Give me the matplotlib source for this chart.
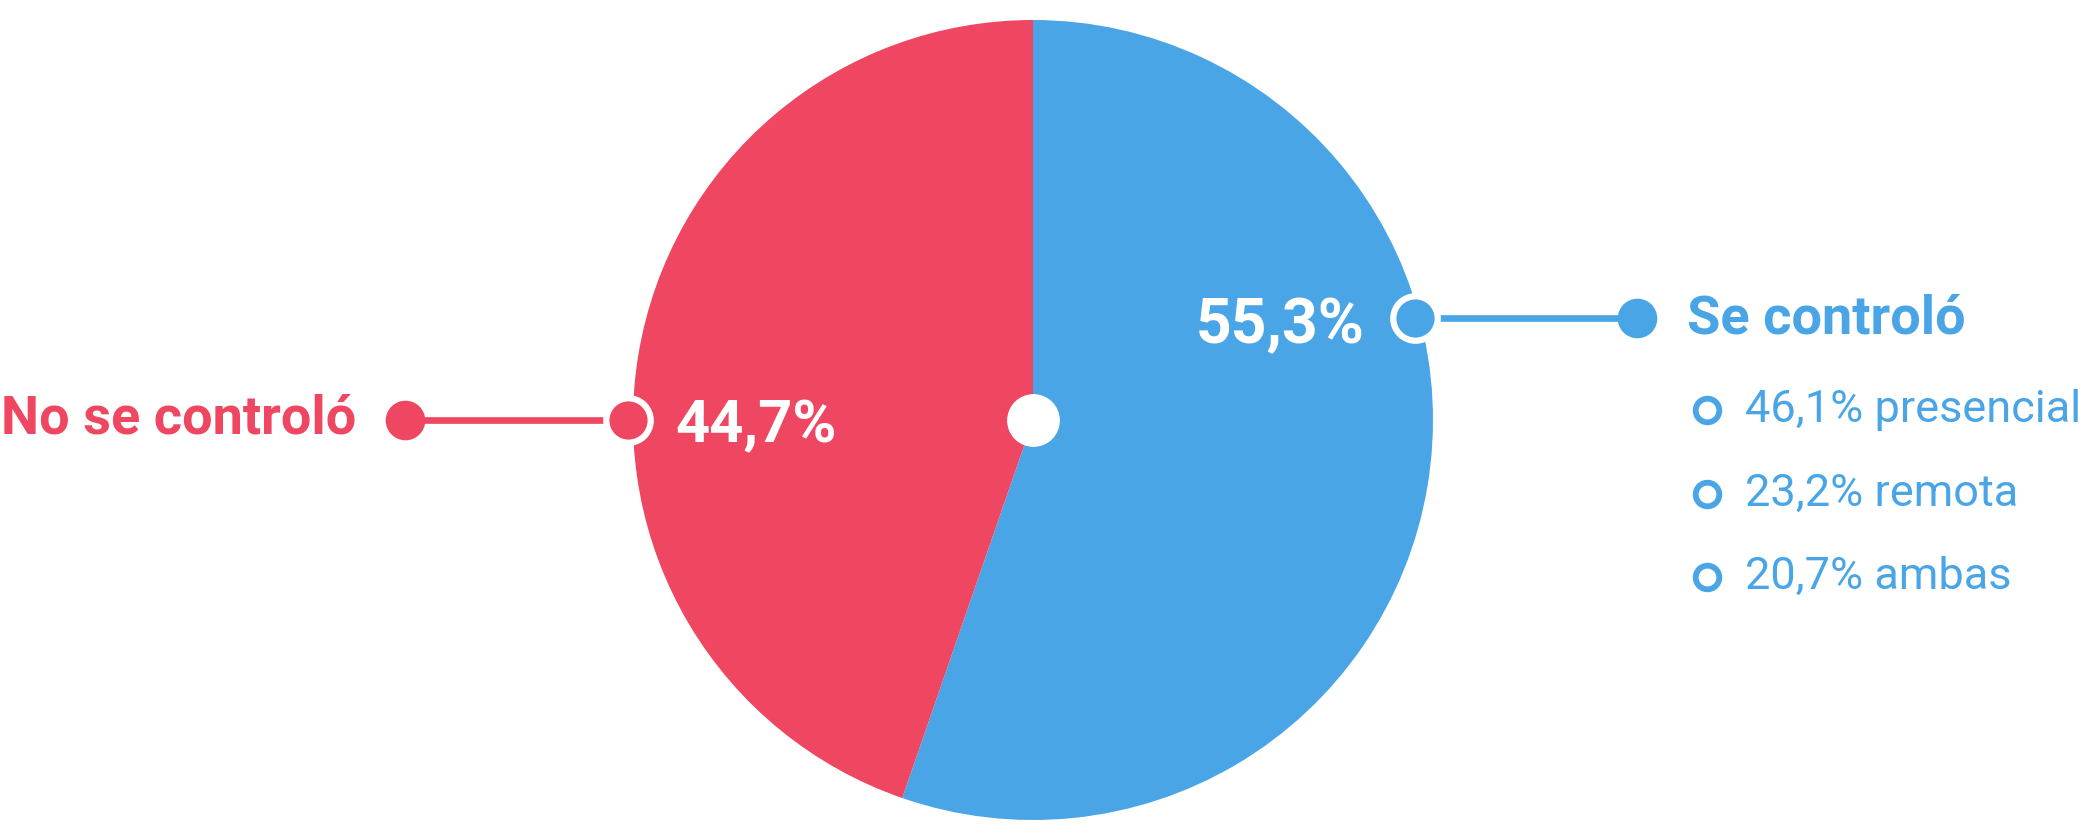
import numpy as np
import matplotlib
matplotlib.use('Agg')
import matplotlib.pyplot as plt

plt.rcParams['font.family'] = ['Roboto', 'DejaVu Sans']

# datos
categorias = ['Se controló', 'No se controló']
valores = [55.3, 44.7]
sub_etiquetas = ['presencial', 'remota', 'ambas']
sub_valores = [46.1, 23.2, 20.7]

azul = '#4AA5E6'
rojo = '#EF4761'

W, H = 2091, 835


def pct(v):
    return f'{v:.1f}'.replace('.', ',') + '%'


fig = plt.figure(figsize=(W / 100, H / 100), dpi=100)
ax = fig.add_axes([0, 0, 1, 1])

cx, cy, r = 1033, H - 420, 400
ax.pie(valores, colors=[azul, rojo], startangle=90, counterclock=False,
       center=(cx, cy), radius=r, frame=True,
       wedgeprops=dict(linewidth=0))
ax.set_xlim(0, W)
ax.set_ylim(0, H)
ax.set_aspect('equal')
ax.axis('off')

# punto blanco central
ax.plot(cx, cy, 'o', ms=37, color='white', zorder=5)

# etiqueta "Se controló"
ang = np.radians(15)
x0, y0 = cx + 395 * np.cos(ang), cy + 395 * np.sin(ang)
x1 = 1637
ax.plot([x0, x1], [y0, y0], color=azul, lw=4.8, zorder=4, solid_capstyle='butt')
ax.plot(x0, y0, 'o', ms=32, mfc=azul, mec='white', mew=4.5, zorder=6)
ax.plot(x1, y0, 'o', ms=27.5, color=azul, zorder=6)
ax.text(1687, H - 333, categorias[0], color=azul, fontsize=39, fontweight='bold',
        ha='left', va='baseline')
ax.text(1365, H - 343, pct(valores[0]), color='white', fontsize=45, fontweight='bold',
        ha='right', va='baseline', zorder=7)

# desglose
ys = [410, 494, 577]
for yy, lab, v in zip(ys, sub_etiquetas, sub_valores):
    ax.plot(1707, H - yy, 'o', ms=17, mfc='white', mec=azul, mew=4.2, zorder=6)
    ax.text(1745, H - yy - 12, f'{pct(v)} {lab}', color=azul, fontsize=32.5,
            ha='left', va='baseline')

# etiqueta "No se controló"
x0, y0 = cx - 405, cy
x1 = 405
ax.plot([x1, x0], [y0, y0], color=rojo, lw=4.8, zorder=4, solid_capstyle='butt')
ax.plot(x0, y0, 'o', ms=32, mfc=rojo, mec='white', mew=4.5, zorder=6)
ax.plot(x1, y0, 'o', ms=27.5, color=rojo, zorder=6)
ax.text(356, H - 433, categorias[1], color=rojo, fontsize=39, fontweight='bold',
        ha='right', va='baseline')
ax.text(675, H - 442, pct(valores[1]), color='white', fontsize=43, fontweight='bold',
        ha='left', va='baseline', zorder=7)

fig.savefig('out.png', dpi=100, facecolor='white')
